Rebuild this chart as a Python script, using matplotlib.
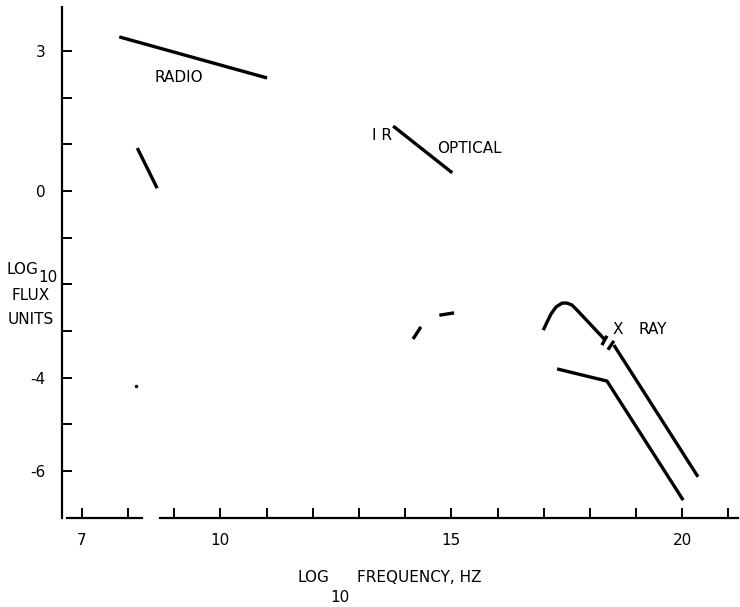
import matplotlib
matplotlib.use("Agg")
import matplotlib.pyplot as plt

# spectrum pieces (log10 frequency, log10 flux)
radio_x = [7.81, 11.01]
radio_y = [3.30, 2.42]
radio_low_x = [8.20, 8.63]
radio_low_y = [0.92, 0.06]
optical_x = [13.74, 15.02]
optical_y = [1.39, 0.39]
ir_dash1_x = [14.17, 14.34]
ir_dash1_y = [-3.17, -2.91]
ir_dash2_x = [14.74, 15.06]
ir_dash2_y = [-2.66, -2.61]
xray_hump_x = [16.99, 17.07, 17.16, 17.27, 17.40, 17.50, 17.61, 17.74, 18.33]
xray_hump_y = [-2.98, -2.81, -2.63, -2.48, -2.40, -2.40, -2.44, -2.57, -3.19]
xray_tail_x = [18.52, 20.34]
xray_tail_y = [-3.30, -6.12]
break1_x = [18.26, 18.37]
break1_y = [-3.30, -3.10]
break2_x = [18.39, 18.52]
break2_y = [-3.40, -3.21]
xray_low_x = [17.29, 18.37, 20.02]
xray_low_y = [-3.81, -4.07, -6.62]
speck_x = [8.17]
speck_y = [-4.18]

xticks = list(range(7, 22))
xlabels = {7: "7", 10: "10", 15: "15", 20: "20"}
yticks = list(range(-6, 4))
ylabels = {3: "3", 0: "0", -4: "-4", -6: "-6"}

W, H = 740, 607
fig = plt.figure(figsize=(W / 100, H / 100), dpi=100)
# axes box in pixels: left 62, right 737.7, top 7, bottom 517.9
ax = fig.add_axes([62 / W, (H - 517.9) / H, 675.7 / W, 510.9 / H])
ax.set_xlim(6.57, 21.2)
ax.set_ylim(-7, 3.94)

lw = 2.4
for xs, ys in [(radio_x, radio_y), (radio_low_x, radio_low_y),
               (optical_x, optical_y), (ir_dash1_x, ir_dash1_y),
               (ir_dash2_x, ir_dash2_y), (xray_hump_x, xray_hump_y),
               (xray_tail_x, xray_tail_y), (xray_low_x, xray_low_y),
               (break1_x, break1_y), (break2_x, break2_y)]:
    ax.plot(xs, ys, color="black", lw=lw, solid_capstyle="butt")
ax.plot(speck_x, speck_y, "o", color="black", ms=1.5)

# axes: left spine, broken bottom line
for s in ["top", "right", "bottom"]:
    ax.spines[s].set_visible(False)
ax.spines["left"].set_linewidth(1.6)
ax.plot([6.68, 8.30], [-7, -7], color="black", lw=1.6, clip_on=False)
ax.plot([8.70, 21.2], [-7, -7], color="black", lw=1.6, clip_on=False)

ax.set_xticks(xticks)
ax.set_xticklabels([xlabels.get(t, "") for t in xticks])
ax.set_yticks(yticks)
ax.set_yticklabels([ylabels.get(t, "") for t in yticks])
ax.tick_params(axis="x", direction="in", length=7, width=1.4, pad=11, labelsize=11)
ax.tick_params(axis="y", direction="in", length=7, width=1.4, pad=12, labelsize=11)

fs = 11
ax.text(9.09, 2.44, "RADIO", fontsize=fs, ha="center", va="center")
ax.text(13.50, 1.18, "I R", fontsize=fs, ha="center", va="center")
ax.text(15.39, 0.90, "OPTICAL", fontsize=fs, ha="center", va="center")
ax.text(18.61, -2.96, "X", fontsize=fs, ha="center", va="center")
ax.text(19.35, -2.96, "RAY", fontsize=fs, ha="center", va="center")

# axis titles, placed in pixels
def ftext(px, py, s, **kw):
    fig.text(px / W, 1 - py / H, s, fontsize=fs, va="center", **kw)

ftext(22, 269, "LOG", ha="center")
ftext(48, 277, "10", ha="center")
ftext(31, 295, "FLUX", ha="center")
ftext(31, 319, "UNITS", ha="center")
ftext(313, 578, "LOG", ha="center")
ftext(340, 598, "10", ha="center")
ftext(357, 578, "FREQUENCY, HZ", ha="left")

fig.savefig("out.png", dpi=100)
